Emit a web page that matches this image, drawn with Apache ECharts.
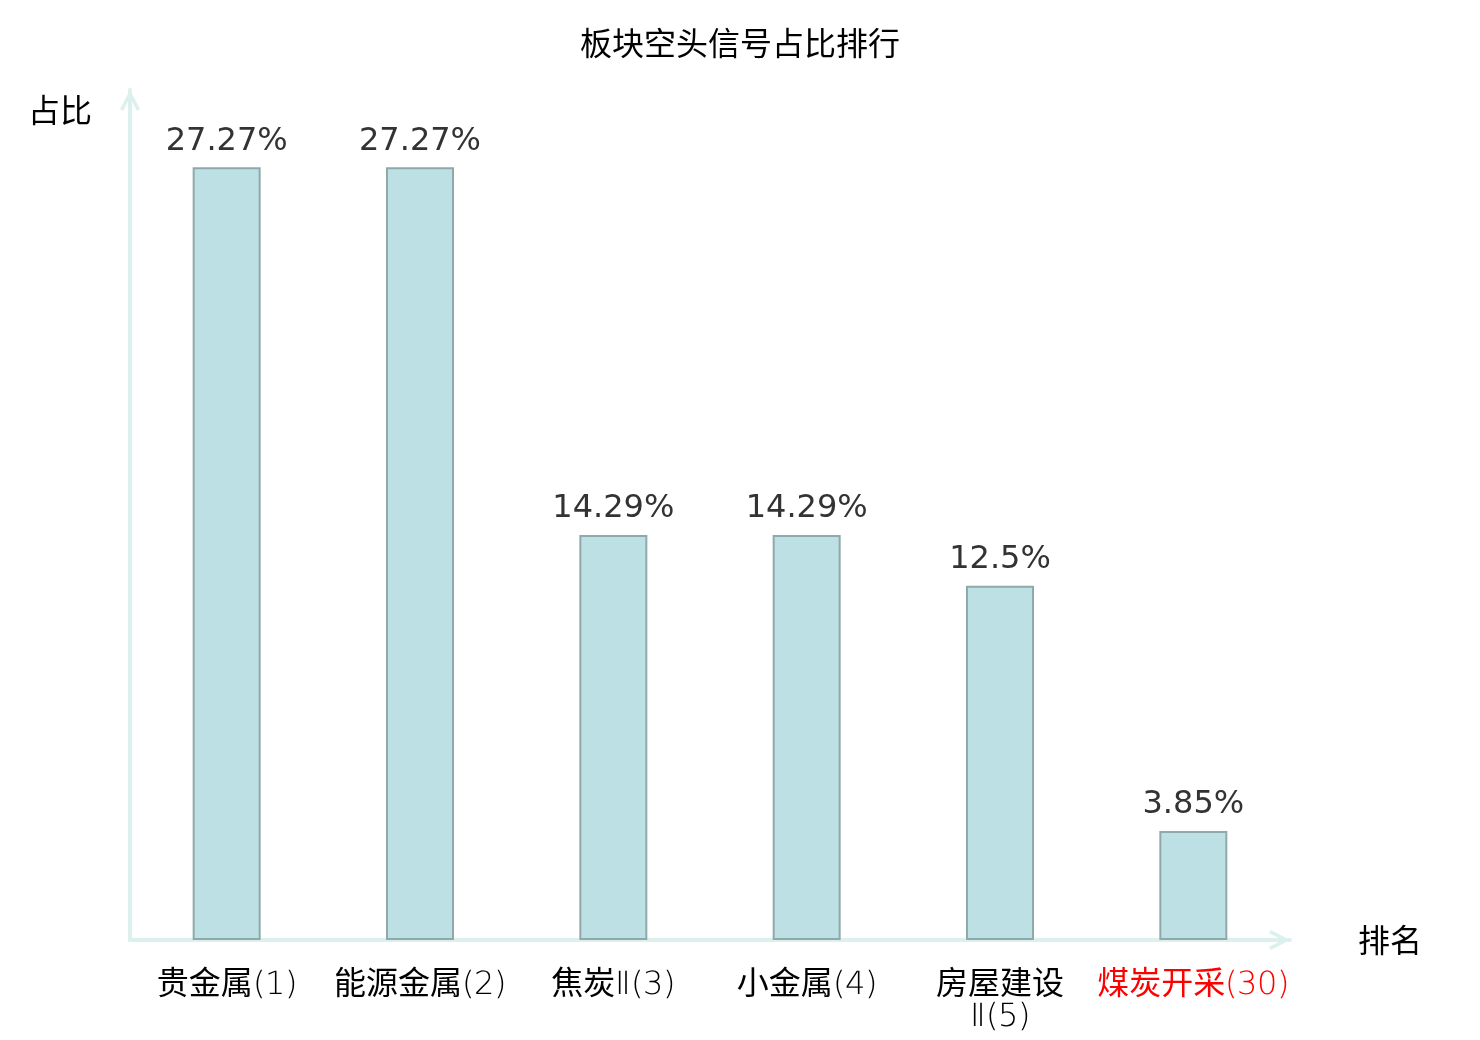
<!DOCTYPE html>
<html>
<head>
<meta charset="utf-8">
<title>板块空头信号占比排行</title>
<script src="https://cdn.jsdelivr.net/npm/echarts@6/dist/echarts.min.js"></script>
<style>
    @font-face {
        font-family: 'LabelLight';
        src: local('DejaVu Sans ExtraLight'), local('DejaVuSans-ExtraLight');
    }
    html, body { margin: 0; padding: 0; background: #fff; }
    #chart { width: 1480px; height: 1040px; }
</style>
</head>
<body>
<div id="chart"></div>
<script>
// 板块名称(排名)
var categories = ['贵金属(1)', '能源金属(2)', '焦炭Ⅱ(3)', '小金属(4)', '房屋建设Ⅱ(5)', '煤炭开采(30)'];
// 空头信号占比(%)
var ratios = [27.27, 27.27, 14.29, 14.29, 12.5, 3.85];
// 需要标红的类目
var highlightIndex = 5;

var cjkFont = '"Noto Sans CJK SC", sans-serif';
var labelFont = 'LabelLight, "Noto Sans CJK SC", sans-serif';
var numFont = '"DejaVu Sans", "Noto Sans CJK SC", sans-serif';
var axisColor = '#dcf0ed';
// 开口箭头(尖端朝上)
var arrowPath = 'path://M10,0 L20,19 L17,21 L10,7.5 L3,21 L0,19 Z';

function renderChart() {
    var myChart = echarts.init(document.getElementById('chart'));

    myChart.setOption({
        animation: false,
        title: {
            text: '板块空头信号占比排行',
            left: 'center',
            top: 22,
            textStyle: {
                fontFamily: cjkFont,
                fontSize: 32,
                fontWeight: 'normal',
                color: '#000'
            }
        },
        grid: {
            left: 130,
            right: 190,
            top: 90,
            bottom: 100
        },
        xAxis: {
            type: 'category',
            data: categories,
            name: '排名',
            nameLocation: 'end',
            nameGap: 68,
            nameTextStyle: {
                fontFamily: cjkFont,
                fontSize: 32,
                color: '#000',
                verticalAlign: 'middle'
            },
            axisLine: {
                lineStyle: { color: axisColor, width: 4 },
                symbol: ['none', arrowPath],
                symbolSize: [20, 21],
                symbolOffset: [0, -10.5]
            },
            axisTick: { show: false },
            axisLabel: {
                interval: 0,
                margin: 30,
                fontFamily: labelFont,
                fontSize: 32,
                lineHeight: 32,
                color: function (value, index) {
                    return index === highlightIndex ? '#ff0000' : '#000';
                },
                formatter: function (value) {
                    // 过长的名称在"Ⅱ"前换行
                    if (value.length > 7 && value.indexOf('Ⅱ') > 0) {
                        return value.replace('Ⅱ', '\nⅡ');
                    }
                    return value;
                }
            }
        },
        yAxis: {
            type: 'value',
            min: 0,
            max: 30,
            name: '占比',
            nameLocation: 'end',
            nameGap: -20,
            nameTextStyle: {
                fontFamily: cjkFont,
                fontSize: 32,
                color: '#000',
                align: 'right',
                verticalAlign: 'middle',
                padding: [0, 38, 0, 0]
            },
            axisLine: {
                show: true,
                lineStyle: { color: axisColor, width: 4 },
                symbol: ['none', arrowPath],
                symbolSize: [20, 21],
                symbolOffset: [0, -10.5]
            },
            axisTick: { show: false },
            axisLabel: { show: false },
            splitLine: { show: false }
        },
        series: [{
            name: '占比',
            type: 'bar',
            data: ratios,
            barWidth: 68,
            itemStyle: {
                color: '#bce0e3',
                borderColor: '#8fa9ab',
                borderWidth: 2
            },
            label: {
                show: true,
                position: 'top',
                distance: 10,
                formatter: '{c}%',
                fontFamily: numFont,
                fontSize: 32,
                color: '#333'
            }
        }]
    });
}

// 本地字体加载完再画, 否则画布会用后备字体
if (document.fonts && document.fonts.load) {
    document.fonts.load('32px LabelLight', '(1)').then(renderChart, renderChart);
} else {
    renderChart();
}
</script>
</body>
</html>
